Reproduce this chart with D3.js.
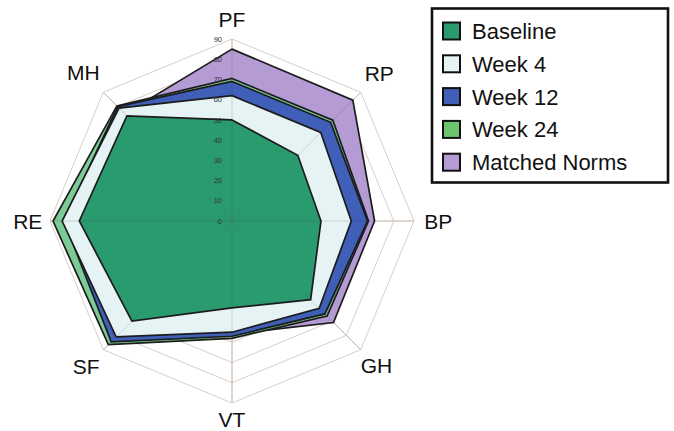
<!DOCTYPE html>
<html><head><meta charset="utf-8">
<script src="https://cdn.jsdelivr.net/npm/d3@7"></script>
<style>html,body{margin:0;padding:0;background:#fff;}svg{display:block;}</style>
</head><body>
<svg id="chart" width="674" height="431"></svg>
<script>
const axes = ["PF","RP","BP","GH","VT","SF","RE","MH"];
const seriesNames = ["Baseline","Week 4","Week 12","Week 24","Matched Norms"];
const baseline = [50, 46, 44, 55, 43, 70, 75.5, 73.5];
const week4    = [62, 62, 59, 61, 55, 81, 84, 79];
const week12   = [69, 69, 67, 65, 57, 84.5, 83, 80];
const week24   = [70.5, 70.5, 67.5, 66.5, 58, 86.5, 88.5, 80.5];
const norms    = [85, 84.5, 70.5, 71, 56, 80, 80, 75];
const tickValues = [0,10,20,30,40,50,60,70,80,90];
const colors = ["#2a9a6f","#e6f3f5","#3f5fb9","#7acb96","#b49bd4"];
const legendColors = ["#2a9a6f","#e6f3f5","#3f5fb9","#6cc46e","#b49bd4"];

const svg = d3.select("#chart");
const cx = 232, cy = 221;
const r = d3.scaleLinear().domain([0, 90]).range([0, 182]);
const ang = d3.scaleLinear().domain([0, axes.length]).range([0, 2*Math.PI]);
const g = svg.append("g").attr("transform", `translate(${cx},${cy})`);
// layout: label distance (in scale units) per axis
const labelDist = [99.5, 103, 102, 101, 98, 102, 101, 104];

const ringLine = d3.lineRadial().angle((d,i)=>ang(i)).radius(d=>r(d)).curve(d3.curveLinearClosed);

tickValues.filter(t=>t>0).forEach(t=>{
  g.append("path").attr("d", ringLine(axes.map(()=>t)))
   .attr("fill","none").attr("stroke","#dacec6").attr("stroke-width",1);
});
axes.forEach((a,i)=>{
  const an = ang(i);
  g.append("line").attr("x1",0).attr("y1",0)
   .attr("x2", r(90)*Math.sin(an)).attr("y2", -r(90)*Math.cos(an))
   .attr("stroke","#dacec6").attr("stroke-width",1);
});

const data = [baseline, week4, week12, week24, norms];
[4,3,2,1,0].forEach(k=>{
  g.append("path").attr("d", ringLine(data[k]))
   .attr("fill", colors[k]).attr("stroke","#1c1c1c").attr("stroke-width",1.7)
   .attr("stroke-linejoin","miter");
});

axes.forEach((a,i)=>{
  const an = ang(i);
  g.append("line").attr("x1",0).attr("y1",0)
   .attr("x2", r(90)*Math.sin(an)).attr("y2", -r(90)*Math.cos(an))
   .attr("stroke","rgba(80,60,50,0.18)").attr("stroke-width",1);
});

g.selectAll("text.tick").data(tickValues).enter().append("text")
 .attr("class","tick").attr("x",-10).attr("y",d=>-r(d)).attr("dy","0.35em")
 .attr("text-anchor","end").attr("font-family","Liberation Sans, Arial, sans-serif")
 .attr("font-size",7.5).attr("fill","#333").text(d=>d);

g.selectAll("text.ax").data(axes).enter().append("text")
 .attr("class","ax")
 .attr("x",(d,i)=>r(labelDist[i])*Math.sin(ang(i)))
 .attr("y",(d,i)=>-r(labelDist[i])*Math.cos(ang(i)))
 .attr("dy","0.36em").attr("text-anchor","middle")
 .attr("font-family","Liberation Sans, Arial, sans-serif").attr("font-size",21)
 .attr("fill","#111").text(d=>d);

const lg = svg.append("g");
lg.append("rect").attr("x",432).attr("y",8.5).attr("width",236).attr("height",174)
  .attr("fill","#fff").attr("stroke","#111").attr("stroke-width",2.6);
seriesNames.forEach((s,i)=>{
  const y = 31 + i*32.8;
  lg.append("rect").attr("x",443).attr("y",y-8.5).attr("width",17).attr("height",17)
    .attr("fill",legendColors[i]).attr("stroke","#111").attr("stroke-width",2);
  lg.append("text").attr("x",472).attr("y",y).attr("dy","0.36em")
    .attr("font-family","Liberation Sans, Arial, sans-serif").attr("font-size",22)
    .attr("fill","#111").text(s);
});
</script>
</body></html>
